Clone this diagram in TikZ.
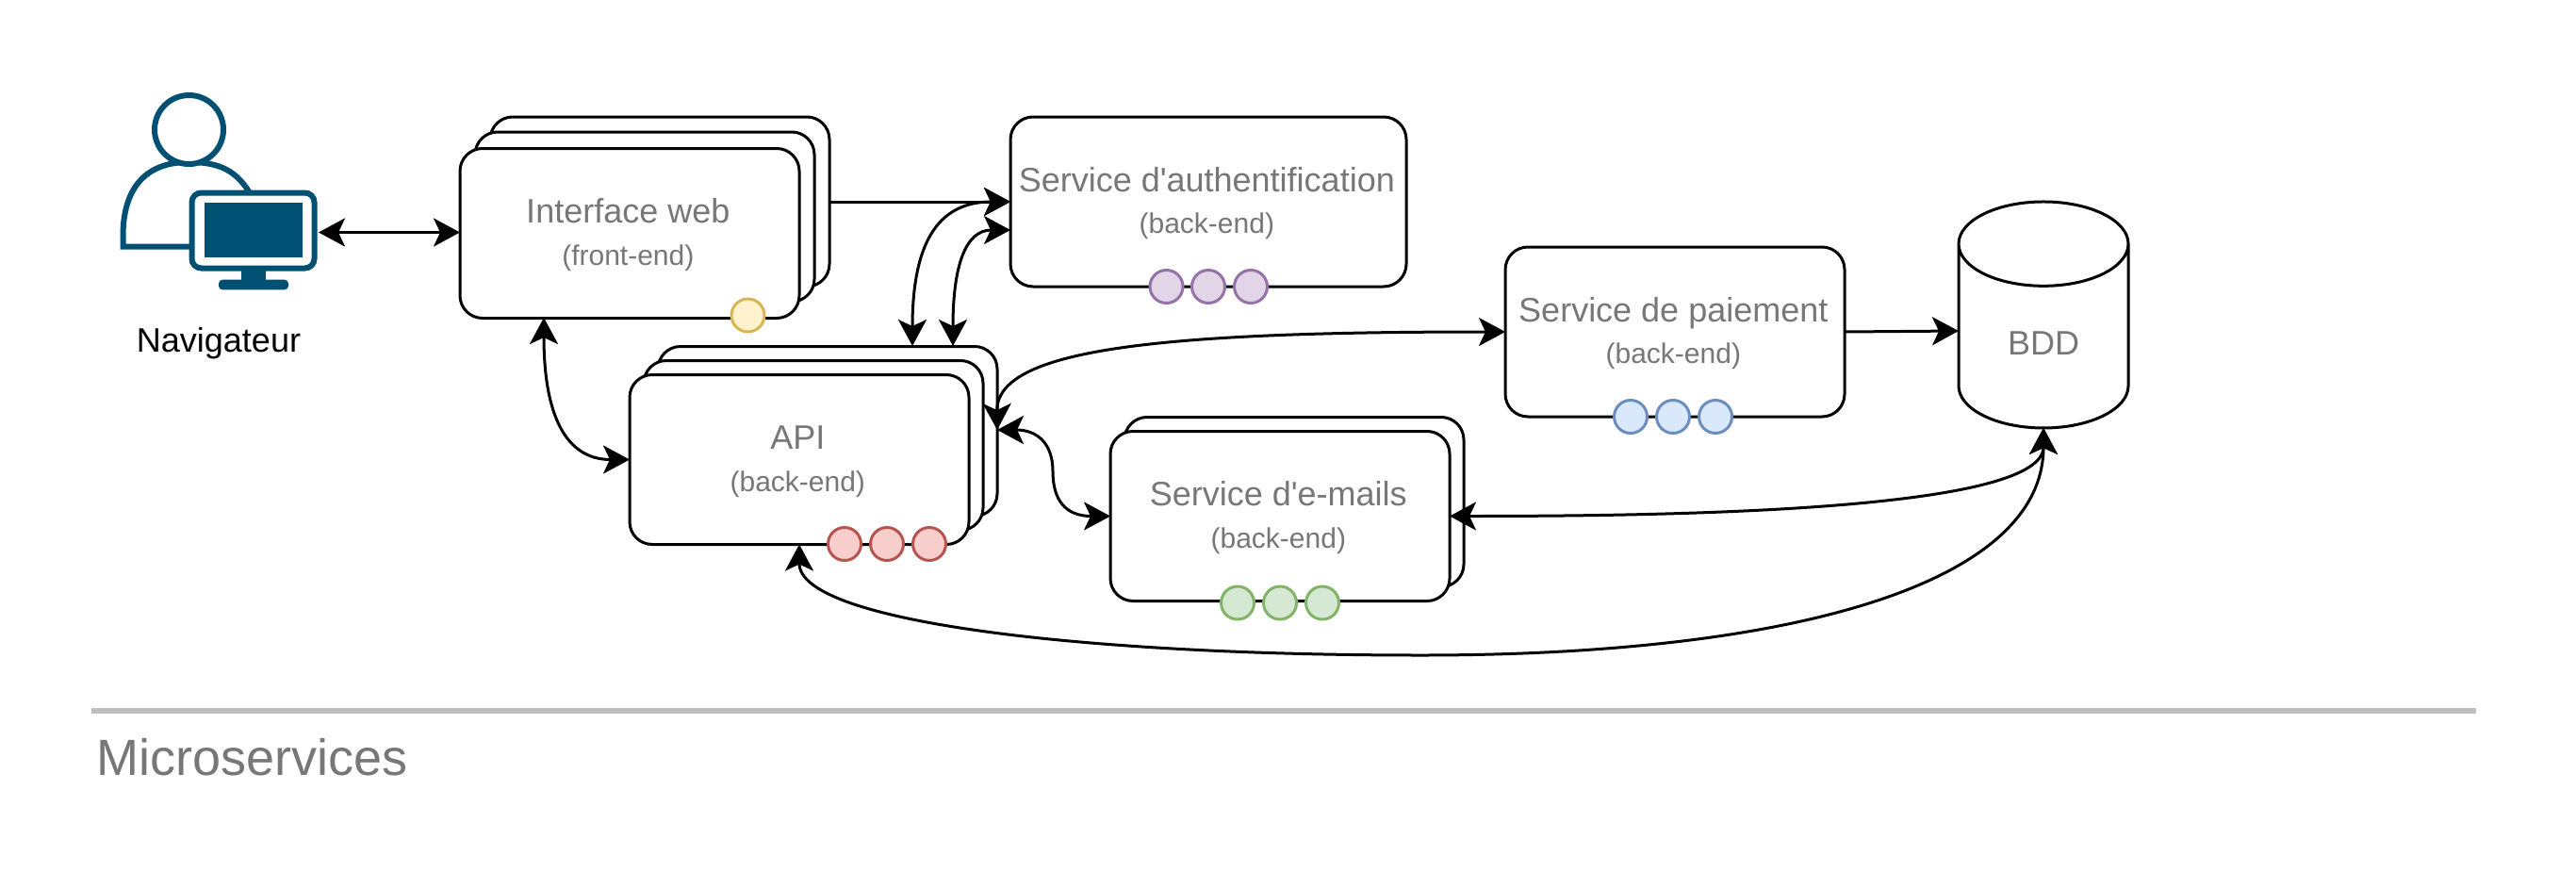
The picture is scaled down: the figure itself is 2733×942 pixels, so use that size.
\documentclass[tikz,border=0pt]{standalone}
\usepackage{fontspec}
\setmainfont{Liberation Sans}[Ligatures = TeXOff]
\usepackage{xcolor}
\usepackage{tikz}
\usetikzlibrary{arrows.meta}
\usetikzlibrary{shapes.geometric}

\definecolor{labelgray}{HTML}{777777}
\definecolor{iconblue}{HTML}{005073}
\definecolor{barcolor}{HTML}{BFBFBF}
\definecolor{yellowline}{HTML}{D6B656}
\definecolor{yellowfill}{HTML}{FFF2CC}
\definecolor{purpleline}{HTML}{9673A6}
\definecolor{purplefill}{HTML}{E1D5E7}
\definecolor{redline}{HTML}{B85450}
\definecolor{redfill}{HTML}{F8CECC}
\definecolor{greenline}{HTML}{82B366}
\definecolor{greenfill}{HTML}{D5E8D4}
\definecolor{blueline}{HTML}{6C8EBF}
\definecolor{bluefill}{HTML}{DAE8FC}

\newcommand{\svctext}[2]{\rule{0pt}{14.8pt}#1\hspace*{1.7pt}\\[0.25pt]{\fontsize{15pt}{18pt}\selectfont #2}\hspace*{1.7pt}}

\tikzset{
    svcbox/.style = {rectangle, draw, fill = white, line width = 1.5pt, rounded corners = 12pt, outer sep = 0pt,
        minimum height = 90pt, text = labelgray, align = center, font = \fontsize{18pt}{22pt}\selectfont},
    stackbox/.style = {svcbox, minimum width = 180pt},
    port/.style = {circle, draw, line width = 1.5pt, inner sep = 0pt, minimum size = 17.5pt},
    yellowport/.style = {port, draw = yellowline, fill = yellowfill},
    purpleport/.style = {port, draw = purpleline, fill = purplefill},
    redport/.style = {port, draw = redline, fill = redfill},
    greenport/.style = {port, draw = greenline, fill = greenfill},
    blueport/.style = {port, draw = blueline, fill = bluefill},
    link/.style = {line width = 1.5pt, -{Stealth[length = 14pt, width = 15pt, inset = 3.5pt]}},
    duplex/.style = {line width = 1.5pt, {Stealth[length = 14pt, width = 15pt, inset = 3.5pt]}-{Stealth[length = 14pt, width = 15pt, inset = 3.5pt]}},
    icon/.style = {draw = iconblue, line width = 3pt, fill = white}
}

\begin{document}
\begin{tikzpicture}[x = 0.5pt, y = -0.5pt]
        \useasboundingbox (0, 0) rectangle (2733, 942);

        \draw [draw = iconblue, line width = 3pt] (205, 261.5) -- (130.5, 261.5) -- (130.5, 250) .. controls (130.5, 205) and (150, 172) .. (200, 172) .. controls (232, 172) and (252, 180) .. (268, 210);
        \node (head) at (200.5, 137.5) [circle, icon, inner sep = 0pt, minimum size = 36.5pt] {};
        \node (monitor) at (268.5, 244.5) [rectangle, icon, rounded corners = 5pt, outer sep = 1.5pt, minimum width = 65pt, minimum height = 40pt] {};
        \node (screen) at (268.8, 244.2) [rectangle, fill = iconblue, inner sep = 0pt, minimum width = 52.2pt, minimum height = 29.2pt] {};
        \node (neck) at (269, 292) [rectangle, fill = iconblue, inner sep = 0pt, minimum width = 13pt, minimum height = 5pt] {};
        \node (foot) at (269, 302) [rectangle, fill = iconblue, rounded corners = 2pt, inner sep = 0pt, minimum width = 37pt, minimum height = 5.3pt] {};
        \node (nav) at (232, 364) [text = black, font = \fontsize{18pt}{22pt}\selectfont] {Navigateur};

        \node (webback) at (700, 214) [stackbox] {};
        \node (webmid) at (684, 230) [stackbox] {};
        \node (web) at (668, 247.5) [stackbox] {\svctext{Interface web}{(front-end)}};
        \node (webdot) at (793.5, 334.5) [yellowport] {};

        \node (auth) at (1282, 214) [svcbox, minimum width = 210pt] {\svctext{Service d'authentification}{(back-end)}};
        \node (autha) at (1237.5, 304) [purpleport] {};
        \node (authb) at (1282, 304) [purpleport] {};
        \node (authc) at (1327, 304) [purpleport] {};

        \node (apiback) at (878, 457.5) [stackbox] {};
        \node (apimid) at (863, 472.5) [stackbox] {};
        \node (api) at (848, 487.5) [stackbox] {\svctext{API}{(back-end)}};
        \node (apia) at (896, 577) [redport] {};
        \node (apib) at (941, 577) [redport] {};
        \node (apic) at (986, 577) [redport] {};

        \node (mailback) at (1373, 532.5) [stackbox] {};
        \node (mail) at (1358, 547.5) [stackbox] {\svctext{Service d'e-mails}{(back-end)}};
        \node (maila) at (1313, 639.5) [greenport] {};
        \node (mailb) at (1358, 639.5) [greenport] {};
        \node (mailc) at (1403, 639.5) [greenport] {};

        \node (pay) at (1777, 352) [stackbox] {\svctext{Service de paiement}{(back-end)}};
        \node (paya) at (1730, 442) [blueport] {};
        \node (payb) at (1775, 442) [blueport] {};
        \node (payc) at (1820, 442) [blueport] {};

        \node (bdd) at (2168, 365.5) [cylinder, shape border rotate = 90, aspect = 1, draw, line width = 1.5pt, outer sep = 0pt, minimum width = 90pt, minimum height = 120pt, text = labelgray, font = \fontsize{18pt}{22pt}\selectfont] {\raisebox{1pt}{BDD}};

        \coordinate (monitoreast) at (338, 246.5);
        \coordinate (webwest) at (488, 246.5);
        \coordinate (authlow) at (1072, 244);
        \coordinate (apitopa) at (968, 367);
        \coordinate (apitopb) at (1011, 367);
        \coordinate (websouth) at (577, 337);
        \coordinate (apieast) at (1058, 456);
        \coordinate (bddwest) at (2078, 351);

        \draw [duplex] (monitoreast) -- (webwest);
        \draw [link] (webback) -- (auth);
        \draw [duplex] (auth.west) .. controls (1000, 214) and (968, 250) .. (apitopa);
        \draw [duplex] (authlow) .. controls (1025, 244) and (1011, 280) .. (apitopb);
        \draw [duplex] (websouth) .. controls (577, 440) and (600, 487.5) .. (api.west);
        \draw [duplex] (apieast) .. controls (1057, 370) and (1230, 352) .. (pay.west);
        \draw [duplex] (apieast) .. controls (1100, 456) and (1117, 470) .. (1117, 500) .. controls (1117, 530) and (1130, 547.5) .. (mail.west);
        \draw [link] (pay.east) -- (bddwest);
        \draw [duplex] (mail.east) .. controls (1800, 547.5) and (2168, 540) .. (bdd.south);
        \draw [duplex] (api.south) .. controls (848, 660) and (1150, 695) .. (1508, 695) .. controls (1900, 695) and (2168, 620) .. (bdd.south);

        \coordinate (barleft) at (97, 754);
        \coordinate (barright) at (2627, 754);
        \draw [draw = barcolor, line width = 3pt] (barleft) -- (barright);
        \node (title) at (102, 822) [anchor = base west, inner sep = 0pt, text = labelgray, font = \fontsize{27pt}{32pt}\selectfont] {Microservices};
    \end{tikzpicture}
\end{document}
